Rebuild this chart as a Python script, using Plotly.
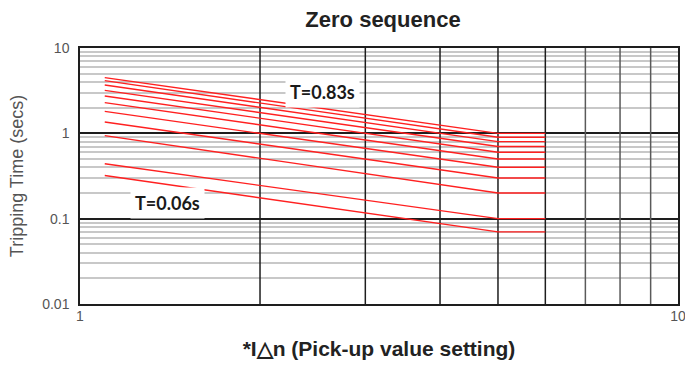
import plotly.graph_objects as go

# Current multiple (x) break points for each curve: start of the inverse-time
# section, end of it (curve turns flat), end of the definite-time section.
current_points = [1.1, 5.0, 6.0]

# Tripping time at the start of each curve (x = 1.1)
start_times = [4.49, 4.14, 3.68, 3.19, 2.74, 2.29, 1.81, 1.36, 0.94, 0.44, 0.32]
# Definite (flat) tripping time reached at x = 5
flat_times = [1.0, 0.9, 0.8, 0.7, 0.6, 0.5, 0.4, 0.3, 0.2, 0.1, 0.07]

y_tick_vals = [0.01, 0.1, 1, 10]
y_tick_text = ["0.01", "0.1", "1", "10"]
x_tick_vals = [1, 10]
x_tick_text = ["1", "10"]

curve_labels = ["T=0.83s", "T=0.06s"]

fig = go.Figure()

# Vertical grid lines at 2..9, drawn as traces so they sit over the
# horizontal minor grid
for d in range(2, 10):
    fig.add_trace(go.Scatter(
        x=[d, d], y=[0.01, 10],
        mode="lines",
        line=dict(color="#1e1e1e" if d <= 6 else "#5a5a5a", width=1.5),
        hoverinfo="skip", showlegend=False,
    ))

for t0, tf in zip(start_times, flat_times):
    fig.add_trace(go.Scatter(
        x=current_points,
        y=[t0, tf, tf],
        mode="lines",
        line=dict(color="#ff2020", width=1.4),
        hoverinfo="skip",
        showlegend=False,
    ))

tick_font = dict(family="Liberation Sans Narrow, Arial Narrow, Liberation Sans, Arial",
                 size=14, color="#555555")

fig.update_layout(
    width=685,
    height=370,
    margin=dict(l=80, r=7, t=48, b=66),
    paper_bgcolor="white",
    plot_bgcolor="white",
    showlegend=False,
    title=dict(
        text="<b>Zero sequence</b>",
        font=dict(family="Liberation Sans Narrow, Arial Narrow, Liberation Sans, Arial",
                  size=22, color="#222222"),
        x=383 / 685, xref="container", xanchor="center",
        y=1 - 19 / 370, yref="container", yanchor="middle",
    ),
    xaxis=dict(
        type="log",
        range=[0, 1],
        tickvals=x_tick_vals,
        ticktext=x_tick_text,
        tickfont=tick_font,
        ticks="",
        ticklabelstandoff=-2,
        ticklabeloverflow="allow",
        automargin=False,
        showgrid=False,
        showline=True,
        linecolor="#1e1e1e",
        linewidth=1.5,
        mirror=True,
        zeroline=False,
        title=dict(
            text="<b>*I\u25b3n (Pick-up value setting)</b>",
            font=dict(family="Liberation Sans, Arial", size=21, color="#222222"),
            standoff=19,
        ),
    ),
    yaxis=dict(
        type="log",
        range=[-2, 1],
        tickvals=y_tick_vals,
        ticktext=y_tick_text,
        tickfont=tick_font,
        ticks="",
        ticklabelstandoff=6,
        ticklabeloverflow="allow",
        automargin=False,
        showgrid=True,
        gridcolor="#1e1e1e",
        gridwidth=1.5,
        minor=dict(dtick="D1", showgrid=True, gridcolor="#c8c8c8", gridwidth=1.5, ticks=""),
        showline=True,
        linecolor="#1e1e1e",
        linewidth=1.5,
        mirror=True,
        zeroline=False,
        title=dict(
            text="Tripping Time (secs)",
            font=dict(family="Liberation Sans, Arial", size=18, color="#555555"),
            standoff=14,
        ),
    ),
)

label_font = dict(family="Lato, Open Sans, sans-serif", size=18, color="#1a1a1a")
fig.add_annotation(
    text="<b>%s</b>" % curve_labels[0],
    xref="paper", yref="paper",
    x=(322 - 80) / 598, y=(304 - 92) / 256,
    xanchor="center", yanchor="middle",
    showarrow=False, font=label_font,
    bgcolor="white", borderpad=4,
)
fig.add_annotation(
    text="<b>%s</b>" % curve_labels[1],
    xref="paper", yref="paper",
    x=(167 - 80) / 598, y=(304 - 203) / 256,
    xanchor="center", yanchor="middle",
    showarrow=False, font=label_font,
    bgcolor="white", borderpad=4,
)

fig.write_html("out.html")
